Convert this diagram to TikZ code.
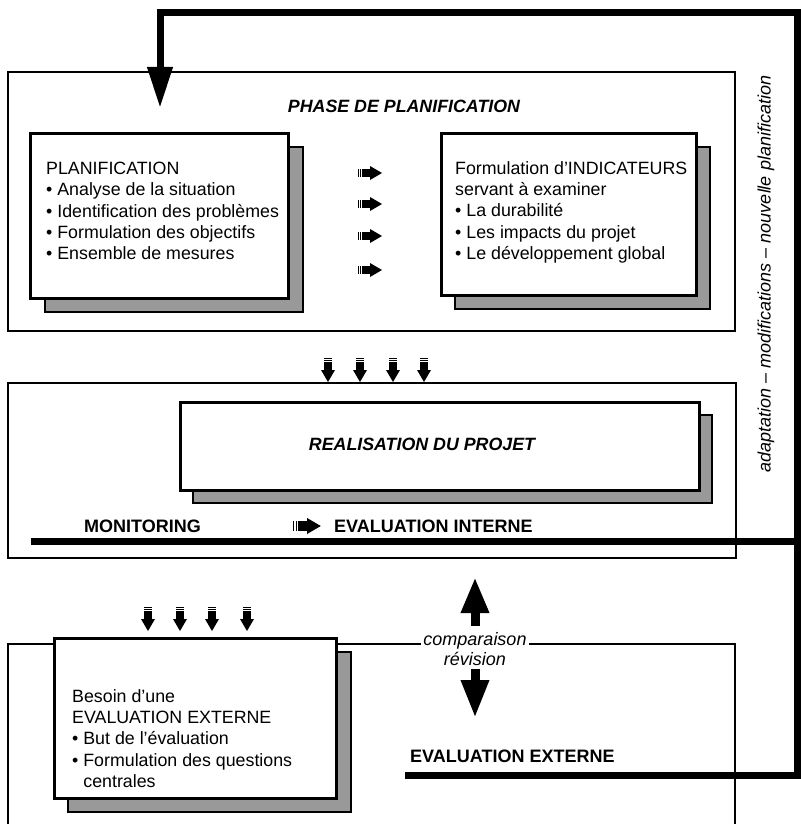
\documentclass[tikz,border=0pt]{standalone}
\usepackage{fontspec}
\setmainfont{Liberation Sans}
\usetikzlibrary{arrows.meta}
\tikzset{
  frame/.style={draw=black, line width=2pt},
  heavy/.style={draw=black, line width=7pt},
  mainbox/.style={draw=black, line width=3pt, fill=white},
  shadowbox/.style={draw=black, line width=2.5pt, fill=black!40},
  boxtext/.style={align=left, inner sep=0pt, font=\fontsize{17.8}{21.3}\selectfont},
  titletext/.style={inner sep=0pt, font=\fontsize{17.8}{21}\selectfont\bfseries\itshape},
  labeltext/.style={inner sep=0pt, font=\fontsize{18}{21}\selectfont\bfseries},
  blockarrow/.pic={
    \fill (-12,-4) rectangle (-11,4);
    \fill (-10,-4) rectangle (-9,4);
    \fill (-8,-4) rectangle (1,4);
    \fill (0,-7) -- (12,0) -- (0,7) -- cycle;
  }
}
\begin{document}
\begin{tikzpicture}[x=1pt,y=-1pt]
\useasboundingbox (0,0) rectangle (800,824);
\fill[white] (0,0) rectangle (800,824);

% frames
\draw[frame] (8,72) rectangle (735,331);
\draw[frame] (8,383) rectangle (736,558);
\draw[frame] (8,826) -- (8,644) -- (735,644) -- (735,826);

% heavy lines and feedback arrow
\coordinate (extStart) at (405,775);
\coordinate (rightTop) at (797,13);
\coordinate (fbTip) at (160,108);
\draw[heavy, -{Triangle[length=41pt,width=24pt]}] (extStart) -| (rightTop) -| (fbTip);
\coordinate (monStart) at (31,541);
\coordinate (monEnd) at (800,541);
\draw[heavy] (monStart) -- (monEnd);

% planning phase
\node[titletext] (phase) at (404,106) {PHASE DE PLANIFICATION};
\draw[shadowbox] (45,147) rectangle (303,312);
\node[mainbox, minimum width=258pt, minimum height=165pt, anchor=north west] (planbox) at (29,132) {};
\node[boxtext, anchor=north west] (plantext) at (46,162)
  {PLANIFICATION\\• Analyse de la situation\\• Identification des problèmes\\• Formulation des objectifs\\• Ensemble de mesures};
\draw[shadowbox] (455,147) rectangle (710,309);
\node[mainbox, minimum width=255pt, minimum height=162pt, anchor=north west] (indbox) at (440,132) {};
\node[boxtext, anchor=north west] (indtext) at (455,161)
  {Formulation d'INDICATEURS\\servant à examiner\\• La durabilité\\• Les impacts du projet\\• Le développement global};
\foreach \yy in {173,204,236,270} \pic at (370,\yy) {blockarrow};

% realisation
\foreach \xx in {328,360,393,424} \pic[rotate=-90] at (\xx,370) {blockarrow};
\draw[shadowbox] (193,415) rectangle (712,503);
\node[mainbox, minimum width=519pt, minimum height=88pt, anchor=north west] (realbox) at (179,401) {};
\node[titletext] (realtext) at (422,444) {REALISATION DU PROJET};
\node[labeltext, anchor=west] (monitoring) at (84,526) {MONITORING};
\pic[scale=1.15] at (307,526) {blockarrow};
\node[labeltext, anchor=west] (evalint) at (334,526) {EVALUATION INTERNE};

% comparison
\coordinate (upBase) at (475,626);
\coordinate (upTip) at (475,577);
\draw[line width=9pt, -{Triangle[length=36pt,width=26pt]}] (upBase) -- (upTip);
\coordinate (dnBase) at (475,669);
\coordinate (dnTip) at (475,718);
\draw[line width=9pt, -{Triangle[length=38pt,width=26pt]}] (dnBase) -- (dnTip);
\node[fill=white, inner sep=2pt, align=center, font=\fontsize{18}{20}\selectfont\itshape] (compar) at (475,649) {comparaison\\révision};

% external evaluation
\foreach \xx in {148,180,212,247} \pic[rotate=-90] at (\xx,619) {blockarrow};
\draw[shadowbox] (68,652) rectangle (351,812);
\node[mainbox, minimum width=282pt, minimum height=160pt, anchor=north west] (besoinbox) at (53,637) {};
\node[boxtext, anchor=north west] (besointext) at (72,689)
  {Besoin d'une\\EVALUATION EXTERNE\\• But de l'évaluation\\• Formulation des questions\\\phantom{• }centrales};
\node[labeltext, anchor=west] (evalext) at (410,756) {EVALUATION EXTERNE};

% feedback label
\node[rotate=90, inner sep=0pt, font=\fontsize{18}{21}\selectfont\itshape] (fblabel) at (766,274)
  {adaptation – modifications – nouvelle planification};
\end{tikzpicture}
\end{document}
